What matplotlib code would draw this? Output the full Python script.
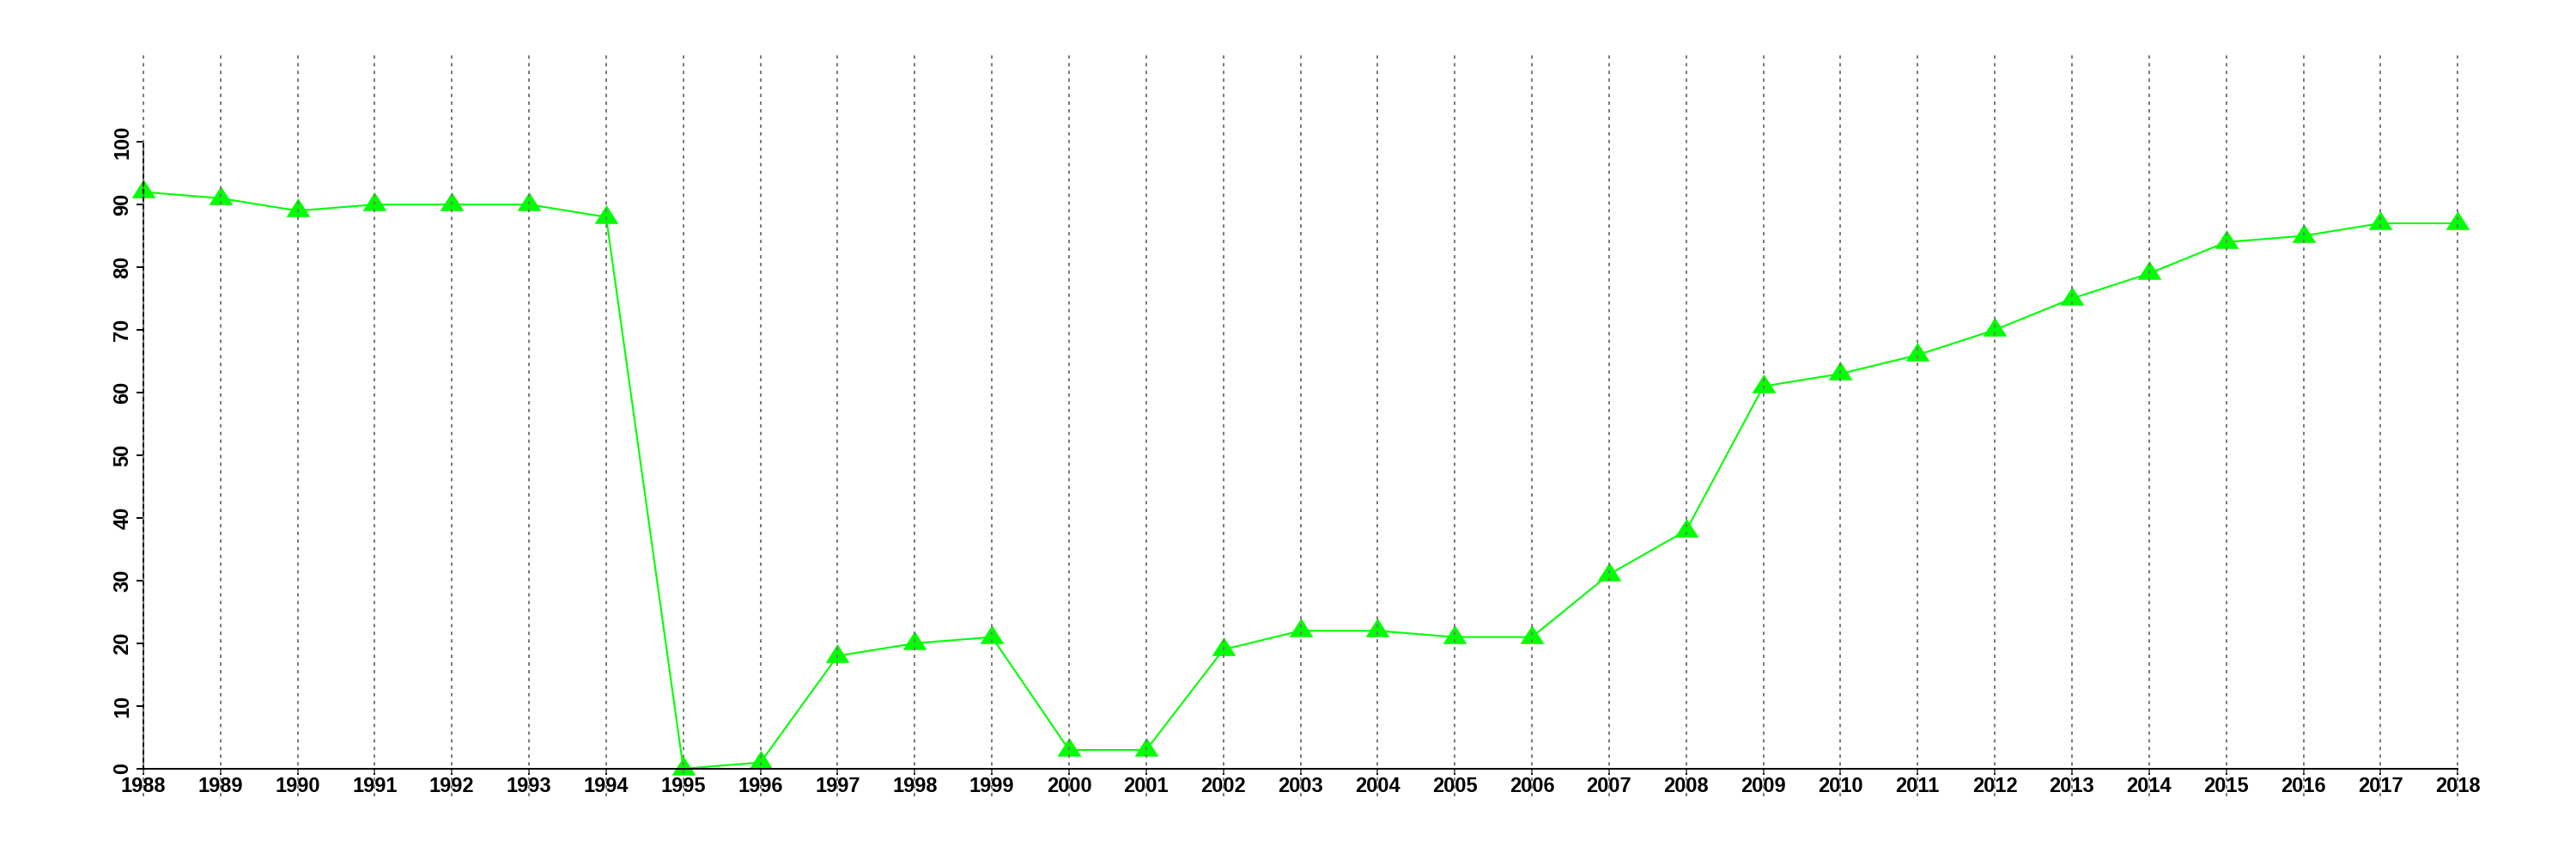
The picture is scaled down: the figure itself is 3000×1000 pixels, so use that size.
import matplotlib
matplotlib.use("Agg")
import matplotlib.pyplot as plt

# Data
years = list(range(1988, 2019))
values = [92, 91, 89, 90, 90, 90, 88, 0, 1, 18, 20, 21, 3, 3, 19, 22,
          22, 21, 21, 31, 38, 61, 63, 66, 70, 75, 79, 84, 85, 87, 87]
y_ticks = list(range(0, 101, 10))

plt.rcParams['font.family'] = ['Liberation Sans', 'DejaVu Sans']
plt.rcParams['font.weight'] = 'bold'

fig = plt.figure(figsize=(30, 10), dpi=100)
ax = fig.add_axes([0.0197, 0.073, 0.9703, 0.867])

# triangle centred on its centroid, like R's pch=17
tri = [(0, 14.5), (-13.8, -7.2), (13.8, -7.2)]
ax.plot(years, values, color='#00ff00', lw=1.5, marker=tri, ms=21,
        markeredgewidth=0, zorder=2)

# dotted vertical lines across the whole plot region
for yr in years:
    ax.axvline(yr, color='#777777', lw=1.4, linestyle=(0, (2.0, 2.6)),
               zorder=5, clip_on=False)

# R style extended ranges (4% on each side)
ax.set_xlim(1988 - 0.04 * 30, 2018 + 0.04 * 30)
ax.set_ylim(0 - 0.04 * 110, 110 + 0.04 * 110)

for side in ['top', 'right']:
    ax.spines[side].set_visible(False)
ax.spines['left'].set_position(('data', 1988))
ax.spines['left'].set_bounds(0, 100)
ax.spines['bottom'].set_position(('data', 0))
ax.spines['bottom'].set_bounds(1988, 2018)
for side in ['left', 'bottom']:
    ax.spines[side].set_linewidth(1.4)
    ax.spines[side].set_zorder(3)

ax.set_xticks(years)
ax.set_xticklabels([str(y) for y in years])
ax.set_yticks(y_ticks)
ax.set_yticklabels([str(v) for v in y_ticks], rotation=90, va='center')

ax.tick_params(axis='x', length=5, width=1.4, pad=1.5, labelsize=17)
ax.tick_params(axis='y', length=6, width=1.4, pad=3, labelsize=17)

fig.savefig("out.png", dpi=100)
